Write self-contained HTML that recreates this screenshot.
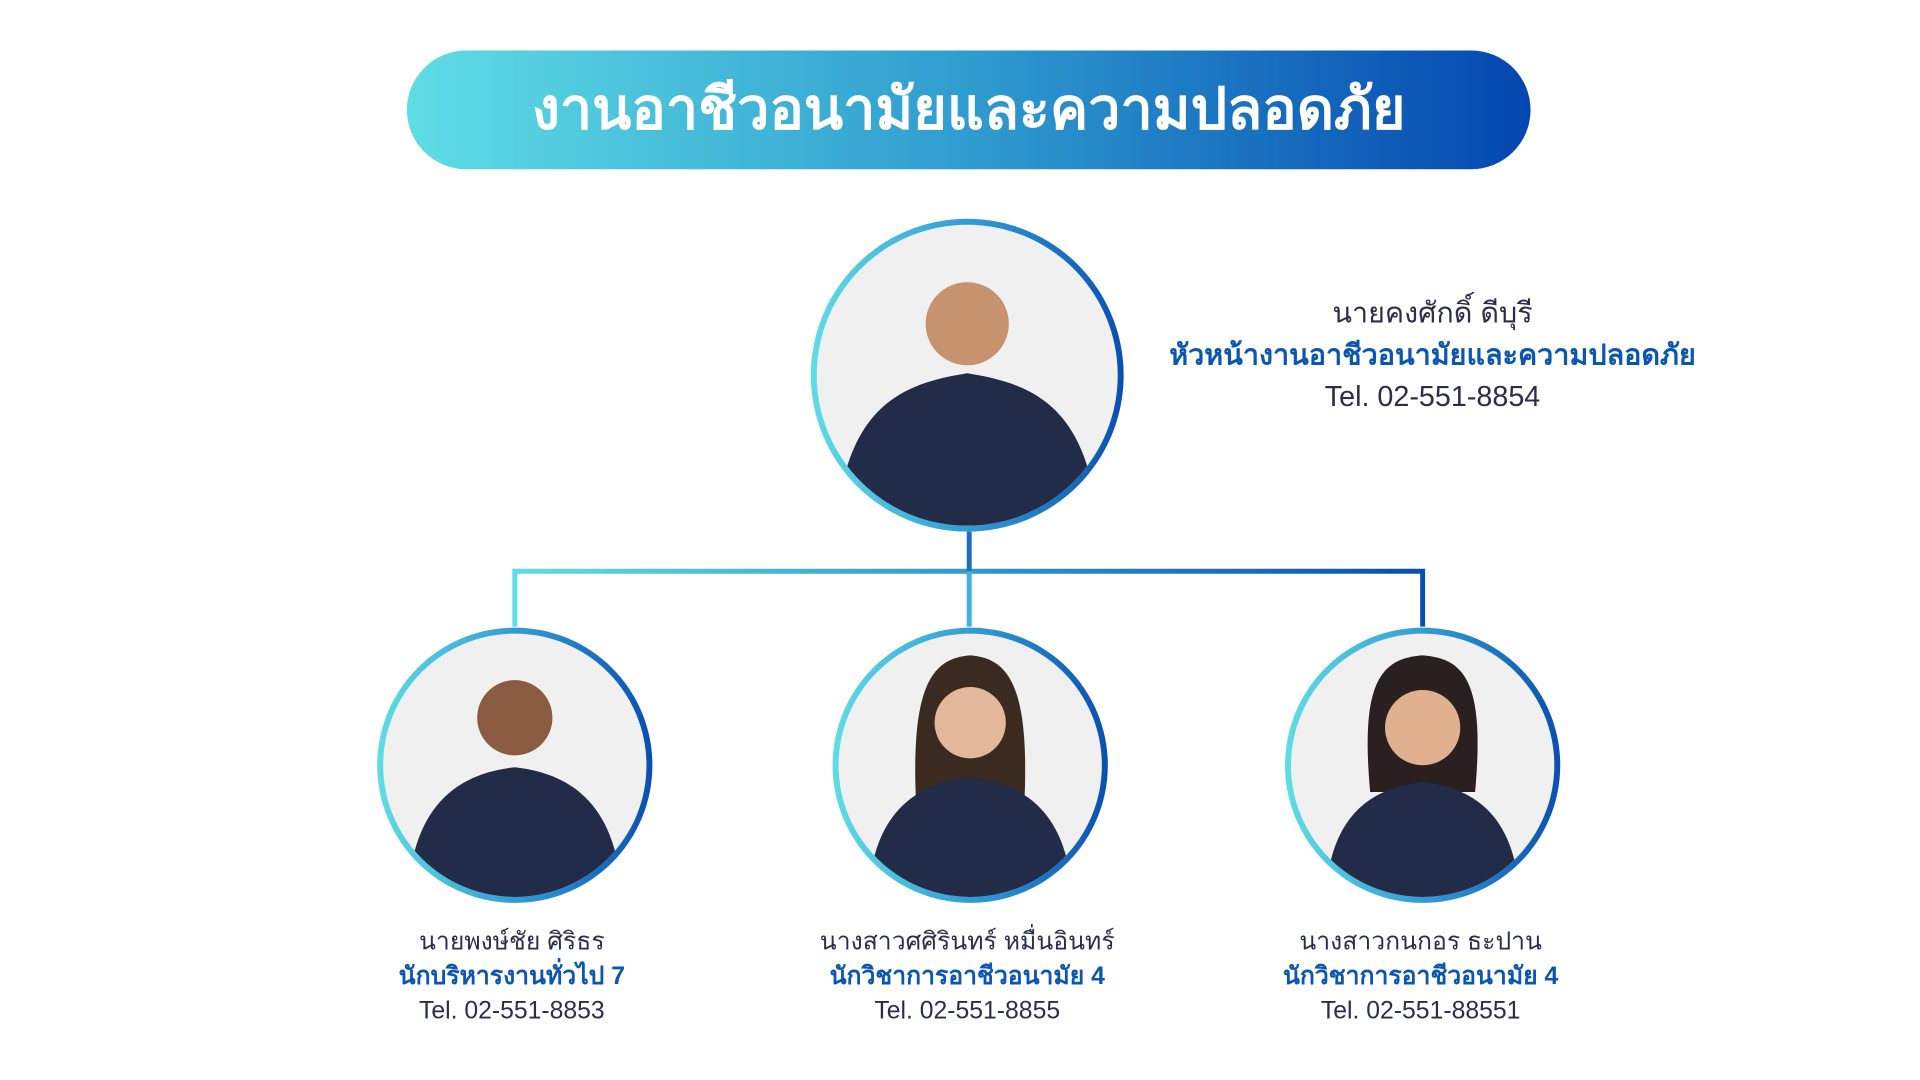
<!DOCTYPE html>
<html><head><meta charset="utf-8"><style>
html,body{margin:0;padding:0;width:1920px;height:1080px;background:#fff;overflow:hidden;position:relative;font-family:"Liberation Sans","Noto Sans CJK SC",sans-serif}
#w{position:absolute;left:0;top:0;width:1920px;height:1080px;transform:scale(0.99);transform-origin:0 0}
.pill{position:absolute;left:411px;top:51px;width:1135px;height:120px;border-radius:60px;background:linear-gradient(90deg,#5fdde5,#2f9ccf 50%,#0446b0);color:#fff;font-size:58px;font-weight:bold;text-align:center;line-height:120px}
.c{position:absolute;border-radius:50%;}
.c .in{position:absolute;inset:6px;border-radius:50%;background:#f0f0f0;overflow:hidden}
.c .ring{position:absolute;inset:0;border-radius:50%;background:linear-gradient(90deg,#5fdde5,#2a8fd0 60%,#0a4fb0)}
.t{position:absolute;text-align:center;white-space:nowrap;color:#2a2e4a}
.t div{height:35px}
.b{color:#0b56b0;font-weight:bold}
</style></head><body><div id="w">
<div class="pill">งานอาชีวอนามัยและความปลอดภัย</div>

<svg style="position:absolute;left:0;top:0" width="1920" height="1080">
<defs><linearGradient id="g" x1="520" x2="1437" gradientUnits="userSpaceOnUse"><stop offset="0" stop-color="#5fdde5"/><stop offset="1" stop-color="#0a4fb0"/></linearGradient></defs>
<path d="M520 633 V577 H1437 V633" fill="none" stroke="url(#g)" stroke-width="5"/>
<line x1="979" y1="537" x2="979" y2="577" stroke="#1a6fc0" stroke-width="5"/>
<line x1="979" y1="577" x2="979" y2="633" stroke="#3fb0dc" stroke-width="5"/>
</svg>

<div class="c" style="left:819px;top:221px;width:316px;height:316px"><div class="ring"></div><div class="in">
<svg width="304" height="304"><circle cx="152" cy="100" r="42" fill="#c7926e"/><path d="M20 304 C30 180 90 160 152 150 C214 160 274 180 284 304Z" fill="#222c48"/></svg></div></div>

<div class="c" style="left:381px;top:634px;width:278px;height:278px"><div class="ring"></div><div class="in">
<svg width="266" height="266"><circle cx="133" cy="85" r="38" fill="#8a5b40"/><path d="M25 266 C30 160 90 140 133 135 C176 140 236 160 241 266Z" fill="#222c48"/></svg></div></div>
<div class="c" style="left:841px;top:634px;width:278px;height:278px"><div class="ring"></div><div class="in">
<svg width="266" height="266"><path d="M80 200 C70 60 90 25 133 22 C176 25 196 60 186 200Z" fill="#3a2a20"/><circle cx="133" cy="90" r="36" fill="#e2b79a"/><path d="M30 266 C35 170 90 150 133 145 C176 150 231 170 236 266Z" fill="#222c48"/></svg></div></div>
<div class="c" style="left:1298px;top:634px;width:278px;height:278px"><div class="ring"></div><div class="in">
<svg width="266" height="266"><path d="M80 160 C70 50 90 25 133 22 C176 25 196 50 186 160Z" fill="#2a2020"/><circle cx="133" cy="95" r="38" fill="#e0b08f"/><path d="M35 266 C40 175 90 155 133 150 C176 155 226 175 231 266Z" fill="#222c48"/></svg></div></div>

<div class="t" style="left:1447px;top:296px;transform:translateX(-50%);font-size:29px;line-height:42px">
<div style="height:42px">นายคงศักดิ์ ดีบุรี</div><div class="b" style="height:42px">หัวหน้างานอาชีวอนามัยและความปลอดภัย</div><div style="height:42px">Tel. 02-551-8854</div></div>

<div class="t" style="left:517px;top:934px;transform:translateX(-50%);font-size:25px;line-height:35px">
<div>นายพงษ์ชัย ศิริธร</div><div class="b">นักบริหารงานทั่วไป 7</div><div>Tel. 02-551-8853</div></div>
<div class="t" style="left:977px;top:934px;transform:translateX(-50%);font-size:25px;line-height:35px">
<div>นางสาวศศิรินทร์ หมื่นอินทร์</div><div class="b">นักวิชาการอาชีวอนามัย 4</div><div>Tel. 02-551-8855</div></div>
<div class="t" style="left:1435px;top:934px;transform:translateX(-50%);font-size:25px;line-height:35px">
<div>นางสาวกนกอร ธะปาน</div><div class="b">นักวิชาการอาชีวอนามัย 4</div><div>Tel. 02-551-88551</div></div>
</div></body></html>
